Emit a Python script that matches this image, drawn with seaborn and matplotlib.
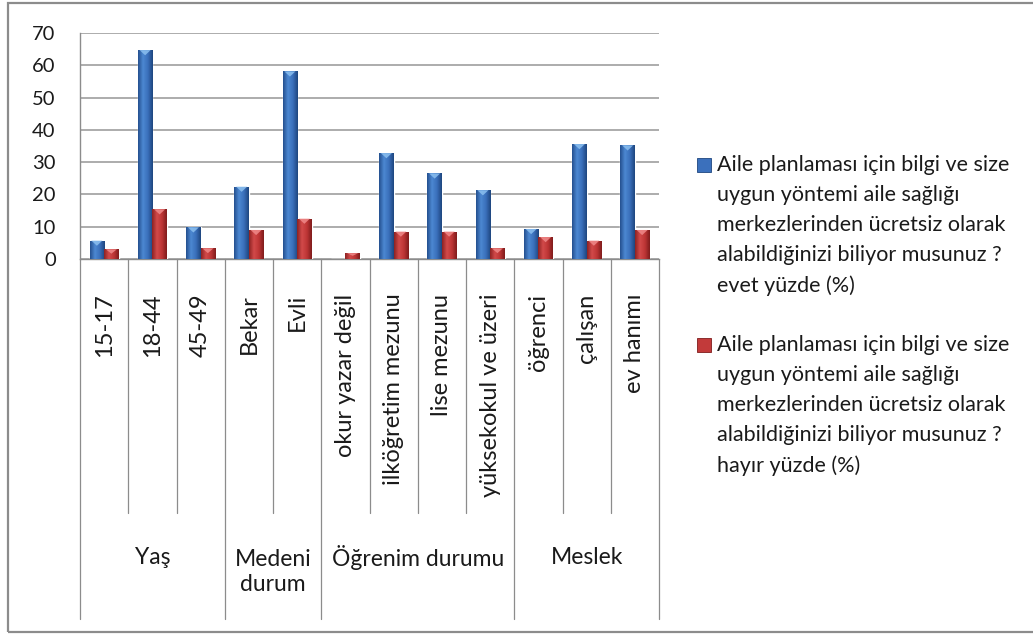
import numpy as np
import pandas as pd
import seaborn as sns
import matplotlib.pyplot as plt
from matplotlib.patches import Rectangle, Polygon
from matplotlib.colors import LinearSegmentedColormap
from matplotlib.transforms import blended_transform_factory

# Data
categories = ['15-17', '18-44', '45-49', 'Bekar', 'Evli', 'okur yazar değil',
              'ilköğretim mezunu', 'lise mezunu', 'yüksekokul ve üzeri',
              'öğrenci', 'çalışan', 'ev hanımı']
groups = ['Yaş', 'Medeni\ndurum', 'Öğrenim durumu', 'Meslek']
group_sizes = [3, 2, 4, 3]
evet = [5.7, 64.7, 9.8, 22.4, 58.1, 0.0, 32.8, 26.5, 21.3, 9.3, 35.6, 35.2]
hayir = [3.0, 15.4, 3.3, 9.0, 12.5, 1.8, 8.5, 8.5, 3.3, 6.8, 5.7, 9.0]
series = ['Aile planlaması için bilgi ve size\nuygun yöntemi aile sağlığı\nmerkezlerinden ücretsiz olarak\nalabildiğinizi biliyor musunuz ?\nevet yüzde (%)',
          'Aile planlaması için bilgi ve size\nuygun yöntemi aile sağlığı\nmerkezlerinden ücretsiz olarak\nalabildiğinizi biliyor musunuz ?\nhayır yüzde (%)']

df = pd.DataFrame({
    'kategori': categories * 2,
    'seri': [series[0]] * len(categories) + [series[1]] * len(categories),
    'deger': evet + hayir,
})

sns.set_style("white")
plt.rcParams['font.family'] = ['Lato', 'DejaVu Sans']
colors = {series[0]: '#3B70BC', series[1]: '#C23A3A'}
light = ['#8CC0F0', '#F08A8A']
dark = ['#1E467F', '#7F1C1C']
txt = '#1A1A1A'

fig = plt.figure(figsize=(10.33, 6.35), dpi=100)
ax = fig.add_axes([80 / 1033, 1 - 259 / 635, 579 / 1033, 226 / 635])

sns.barplot(data=df, x='kategori', y='deger', hue='seri', order=categories,
            hue_order=series, palette=colors, width=0.6, saturation=1,
            legend=False, ax=ax, zorder=3)

# horizontal gradient on each bar for the 3D look, plus the bevel at the top
grad = np.linspace(0, 1, 64).reshape(1, -1)
cmaps = [LinearSegmentedColormap.from_list('b', ['#24508F', '#4C88D2', '#3A6FBA', '#1E467F']),
         LinearSegmentedColormap.from_list('r', ['#8E2222', '#D24A4A', '#BD3535', '#7F1C1C'])]
for i, (cont, cm) in enumerate(zip(ax.containers, cmaps)):
    for p in cont.patches:
        x, w, h = p.get_x(), p.get_width(), p.get_height()
        if h <= 0:
            continue
        im = ax.imshow(grad, cmap=cm, extent=(x, x + w, 0, h), aspect='auto', zorder=4)
        im.set_clip_path(p)
        d = min(1.6, h * 0.45)
        ax.add_patch(Polygon([[x + w * 0.12, h], [x + w * 0.88, h], [x + w / 2, h - d]],
                             closed=True, facecolor=light[i], edgecolor='none', alpha=0.85, zorder=5))

ax.set_xlim(-0.5, len(categories) - 0.5)
ax.set_ylim(0, 70)
ax.set_yticks(range(0, 71, 10))
ax.set_xlabel('')
ax.set_ylabel('')
ax.yaxis.grid(True, color='#A6A6A6', linewidth=1.3, zorder=0)
ax.set_axisbelow(True)
for s in ['top', 'right']:
    ax.spines[s].set_visible(False)
for s in ['left', 'bottom']:
    ax.spines[s].set_color('#8C8C8C')
    ax.spines[s].set_linewidth(1.0)

ax.set_xticks(range(len(categories)))
ax.set_xticklabels(categories, rotation=90, fontsize=17, color=txt)
ax.tick_params(axis='x', length=0, pad=25)
ax.tick_params(axis='y', length=6.5, color='#8C8C8C', pad=11, labelsize=14.5, labelcolor=txt)

# category separators below axis
trans = blended_transform_factory(ax.transData, ax.transAxes)
bounds = np.cumsum([0] + group_sizes) - 0.5
for k in range(len(categories) + 1):
    xb = k - 0.5
    y_end = -1.593 if xb in bounds else -1.124
    ax.plot([xb, xb], [0, y_end], transform=trans, color='#8C8C8C',
            linewidth=0.9, clip_on=False)

# group labels
for g, (a, b) in zip(groups, zip(bounds[:-1], bounds[1:])):
    yy = -1.385 if '\n' in g else -1.319
    ax.text((a + b) / 2, yy, g, transform=trans, ha='center', va='center',
            fontsize=16.5, color=txt, linespacing=1.2)

# legend: square marker beside the first line of each label
for i, (s, ytop) in enumerate(zip(series, [155, 335])):
    fig.patches.append(Rectangle((697 / 1033, 1 - (ytop + 17) / 635), 14 / 1033, 14 / 635,
                                 transform=fig.transFigure, facecolor=colors[s],
                                 edgecolor=dark[i], linewidth=0.6))
    fig.text(717 / 1033, 1 - ytop / 635, s, ha='left', va='top', fontsize=15.5,
             color=txt, linespacing=1.62)

# outer frame
fig.patches.append(Rectangle((8 / 1033, 3 / 635), 1.02, 629 / 635, transform=fig.transFigure,
                             fill=False, edgecolor='#8C8C8C', linewidth=1.6))

plt.savefig('out.png', dpi=100)
